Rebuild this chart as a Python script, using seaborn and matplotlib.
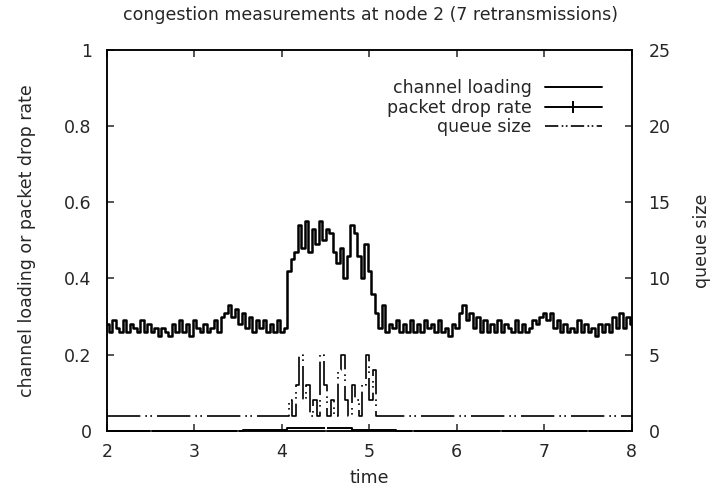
import numpy as np
import matplotlib
matplotlib.use("Agg")
import matplotlib.pyplot as plt
from matplotlib.lines import Line2D
import seaborn as sns
import pandas as pd

# channel loading, every 0.04 time units (2.00 .. 8.00)
load_time = np.round(np.arange(2.0, 8.0001, 0.04), 2)
channel_loading = [
    0.28, 0.26, 0.29, 0.27, 0.26, 0.29, 0.26, 0.28, 0.27, 0.26,
    0.29, 0.26, 0.28, 0.26, 0.27, 0.25, 0.27, 0.26, 0.25, 0.28,
    0.26, 0.29, 0.26, 0.28, 0.25, 0.29, 0.27, 0.26, 0.28, 0.26,
    0.27, 0.29, 0.26, 0.30, 0.31, 0.33, 0.30, 0.32, 0.28, 0.31,
    0.27, 0.30, 0.26, 0.29, 0.27, 0.29, 0.26, 0.28, 0.26, 0.29, 0.26,
    0.27, 0.42, 0.45, 0.47, 0.54, 0.48, 0.55, 0.47, 0.53, 0.49,
    0.55, 0.50, 0.53, 0.52, 0.47, 0.44, 0.48, 0.40, 0.46, 0.54,
    0.52, 0.46, 0.40, 0.49, 0.42, 0.36, 0.31, 0.27, 0.33,
    0.26, 0.28, 0.27, 0.29, 0.26, 0.28, 0.26, 0.29, 0.26, 0.28,
    0.26, 0.29, 0.27, 0.28, 0.26, 0.29, 0.26, 0.27, 0.25, 0.28,
    0.27, 0.31, 0.33, 0.29, 0.31, 0.27, 0.30, 0.26, 0.29, 0.26,
    0.28, 0.26, 0.29, 0.26, 0.28, 0.27, 0.26, 0.29, 0.26, 0.28,
    0.26, 0.27, 0.29, 0.28, 0.30, 0.31, 0.29, 0.31, 0.27, 0.29,
    0.26, 0.28, 0.26, 0.27, 0.26, 0.29, 0.26, 0.28, 0.26, 0.27,
    0.25, 0.28, 0.26, 0.28, 0.26, 0.30, 0.27, 0.31, 0.27, 0.30, 0.28,
]

# packet drop rate (steps)
drop_time = [2.0, 2.5, 3.0, 3.5, 3.55, 4.06, 4.5, 4.8, 5.3, 5.5, 6.0, 6.5, 7.0, 7.5, 8.0]
drop_rate = [0.0, 0.0, 0.0, 0.0, 0.003, 0.008, 0.008, 0.003, 0.0, 0.0, 0.0, 0.0, 0.0, 0.0, 0.0]
drop_marks = [1, 3, 6, 9, 11, 13]  # points drawn with a "+" marker

# queue size (steps, right axis)
queue_time = [2.0, 4.0, 4.04, 4.08, 4.12, 4.16, 4.20, 4.24, 4.28, 4.32, 4.36, 4.40,
              4.44, 4.48, 4.52, 4.56, 4.60, 4.64, 4.68, 4.72, 4.76, 4.80, 4.84,
              4.88, 4.92, 4.96, 5.00, 5.04, 5.08, 8.0]
queue_size = [1, 1, 1, 2, 1, 3, 5, 2, 3, 1, 2, 1,
              5, 3, 1, 2, 1, 4, 5, 2, 1, 3, 2,
              1, 3, 5, 2, 4, 1, 1]

x_ticks = [2, 3, 4, 5, 6, 7, 8]
y_ticks = [0, 0.2, 0.4, 0.6, 0.8, 1.0]
y_tick_labels = ['0', '0.2', '0.4', '0.6', '0.8', '1']
y2_ticks = [0, 5, 10, 15, 20, 25]

sns.set_style("ticks")
plt.rcParams['font.family'] = ['DejaVu Sans']
plt.rcParams['font.size'] = 12.5

queue_dash = (0, (20, 3, 1, 2, 1, 3))

fig = plt.figure(figsize=(7.13, 4.88), dpi=100)
ax = fig.add_axes([0.150, 0.117, 0.736, 0.781])
ax2 = ax.twinx()

df_load = pd.DataFrame({'time': load_time, 'value': channel_loading})
df_drop = pd.DataFrame({'time': drop_time, 'rate': drop_rate})
df_queue = pd.DataFrame({'time': queue_time, 'size': queue_size})

sns.lineplot(data=df_load, x='time', y='value', ax=ax, color='black', lw=1.8,
             drawstyle='steps-mid', estimator=None, sort=False)
sns.lineplot(data=df_drop, x='time', y='rate', ax=ax, color='black', lw=1.4,
             drawstyle='steps-post', marker='|', markersize=8, markeredgewidth=1.4,
             markevery=drop_marks, estimator=None, sort=False, clip_on=False, zorder=5)
sns.lineplot(data=df_queue, x='time', y='size', ax=ax2, color='black', lw=1.2,
             drawstyle='steps-post', linestyle=queue_dash, estimator=None, sort=False)

ax.set_xlim(2, 8)
ax.set_ylim(0, 1)
ax2.set_ylim(0, 25)
ax.set_xticks(x_ticks)
ax.set_xticklabels([str(t) for t in x_ticks])
ax.set_yticks(y_ticks)
ax.set_yticklabels(y_tick_labels)
ax2.set_yticks(y2_ticks)
ax2.set_yticklabels([str(t) for t in y2_ticks])

ax.tick_params(axis='x', direction='in', length=5, width=1.1, top=True, pad=9)
ax.tick_params(axis='y', direction='in', length=5, width=1.1, pad=11)
ax2.tick_params(axis='y', direction='in', length=5, width=1.1, pad=12)

for a in (ax, ax2):
    for s in a.spines.values():
        s.set_visible(True)
        s.set_linewidth(1.1)
        s.set_color('black')

ax.set_xlabel('time')
ax.set_ylabel('channel loading or packet drop rate')
ax2.set_ylabel('queue size')
ax.xaxis.set_label_coords(0.5, -0.10)
ax.yaxis.set_label_coords(-0.135, 0.5)
ax2.yaxis.set_label_coords(1.116, 0.5)

fig.text(370 / 713, 1 - 15 / 488, 'congestion measurements at node 2 (7 retransmissions)',
         ha='center', va='center')

handles = [
    Line2D([], [], color='black', lw=1.4),
    Line2D([], [], color='black', lw=1.4, marker='|', markersize=8, markeredgewidth=1.4),
    Line2D([], [], color='black', lw=1.2, linestyle=(0, (8, 2, 1, 1.5, 1, 2))),
]
ax2.legend(handles, ['channel loading', 'packet drop rate', 'queue size'],
           loc='upper right', bbox_to_anchor=(602 / 713, 1 - 79 / 488),
           bbox_transform=fig.transFigure, frameon=False, markerfirst=False,
           numpoints=1, handlelength=3.3, handletextpad=0.75, labelspacing=0.1,
           borderpad=0, borderaxespad=0)

fig.savefig('out.png', dpi=100)
